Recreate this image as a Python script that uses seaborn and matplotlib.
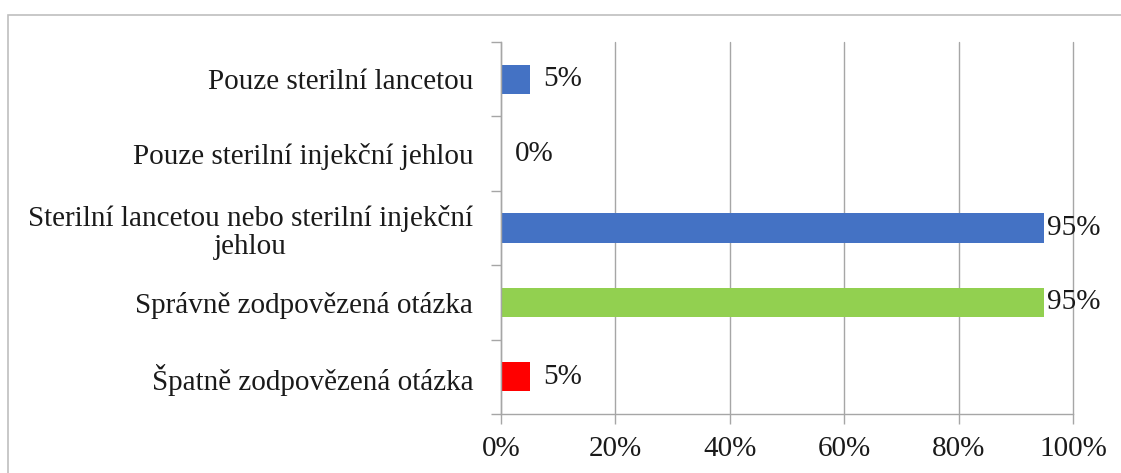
import matplotlib
matplotlib.use('Agg')
import matplotlib.pyplot as plt
import matplotlib.patches as mpatches
import pandas as pd
import seaborn as sns
from matplotlib.ticker import FixedLocator, PercentFormatter

# Daten
categories = [
    'Pouze sterilní lancetou',
    'Pouze sterilní injekční jehlou',
    'Sterilní lancetou nebo sterilní injekční\njehlou',
    'Správně zodpovězená otázka',
    'Špatně zodpovězená otázka',
]
values = [5, 0, 95, 95, 5]
bar_colors = ['#4472C4', '#4472C4', '#4472C4', '#92D050', '#FF0000']

data = pd.DataFrame({'kategorie': categories, 'podil': values})

sns.set_style('white')
plt.rcParams['font.family'] = ['Liberation Serif', 'DejaVu Serif']
fs = 21
text_color = '#1a1a1a'
grid_color = '#A6A6A6'

fig = plt.figure(figsize=(11.21, 4.73), dpi=100)
ax = fig.add_axes([501 / 1121, 1 - 414 / 473, 572 / 1121, 372 / 473])

sns.barplot(data=data, y='kategorie', x='podil', hue='kategorie',
            palette=dict(zip(categories, bar_colors)), order=categories,
            hue_order=categories, width=0.39, legend=False, ax=ax,
            edgecolor='none', saturation=1)

ax.set_xlim(0, 100)
ax.set_ylim(4.5, -0.5)
ax.set_xticks([0, 20, 40, 60, 80, 100])
ax.xaxis.set_major_formatter(PercentFormatter(decimals=0))
ax.set_xlabel('')
ax.set_ylabel('')

# Gitter und Achsen
ax.grid(axis='x', color=grid_color, linewidth=1)
for gl in ax.get_xgridlines():
    gl.set_clip_on(False)
ax.set_axisbelow(True)
for side in ['top', 'right']:
    ax.spines[side].set_visible(False)
for side in ['left', 'bottom']:
    ax.spines[side].set_color(grid_color)
    ax.spines[side].set_linewidth(1)

ax.tick_params(axis='x', which='major', length=7, width=1, color=grid_color,
               bottom=True, labelcolor=text_color, labelsize=fs, pad=9)
ax.tick_params(axis='y', which='major', length=0, labelsize=fs,
               labelcolor=text_color, pad=20)
ax.yaxis.set_minor_locator(FixedLocator([-0.5, 0.5, 1.5, 2.5, 3.5, 4.5]))
ax.tick_params(axis='y', which='minor', length=7, width=1, color=grid_color, left=True)
for lbl in ax.get_yticklabels():
    lbl.set_multialignment('center')
    lbl.set_linespacing(1.15)

# Beschriftungen
for cont, v in zip(ax.containers, values):
    pad = 2 if v > 90 else 10
    ax.bar_label(cont, labels=[f'{v}%'], padding=pad, fontsize=fs, color=text_color)

# Rahmen um das Diagramm
fig.patches.append(mpatches.Rectangle((8 / 1121, -0.1), 1.2, 1 - 15 / 473 + 0.1,
                                      transform=fig.transFigure, fill=False,
                                      edgecolor='#BFBFBF', linewidth=1.2))

fig.savefig('out.png', dpi=100, facecolor='white')
